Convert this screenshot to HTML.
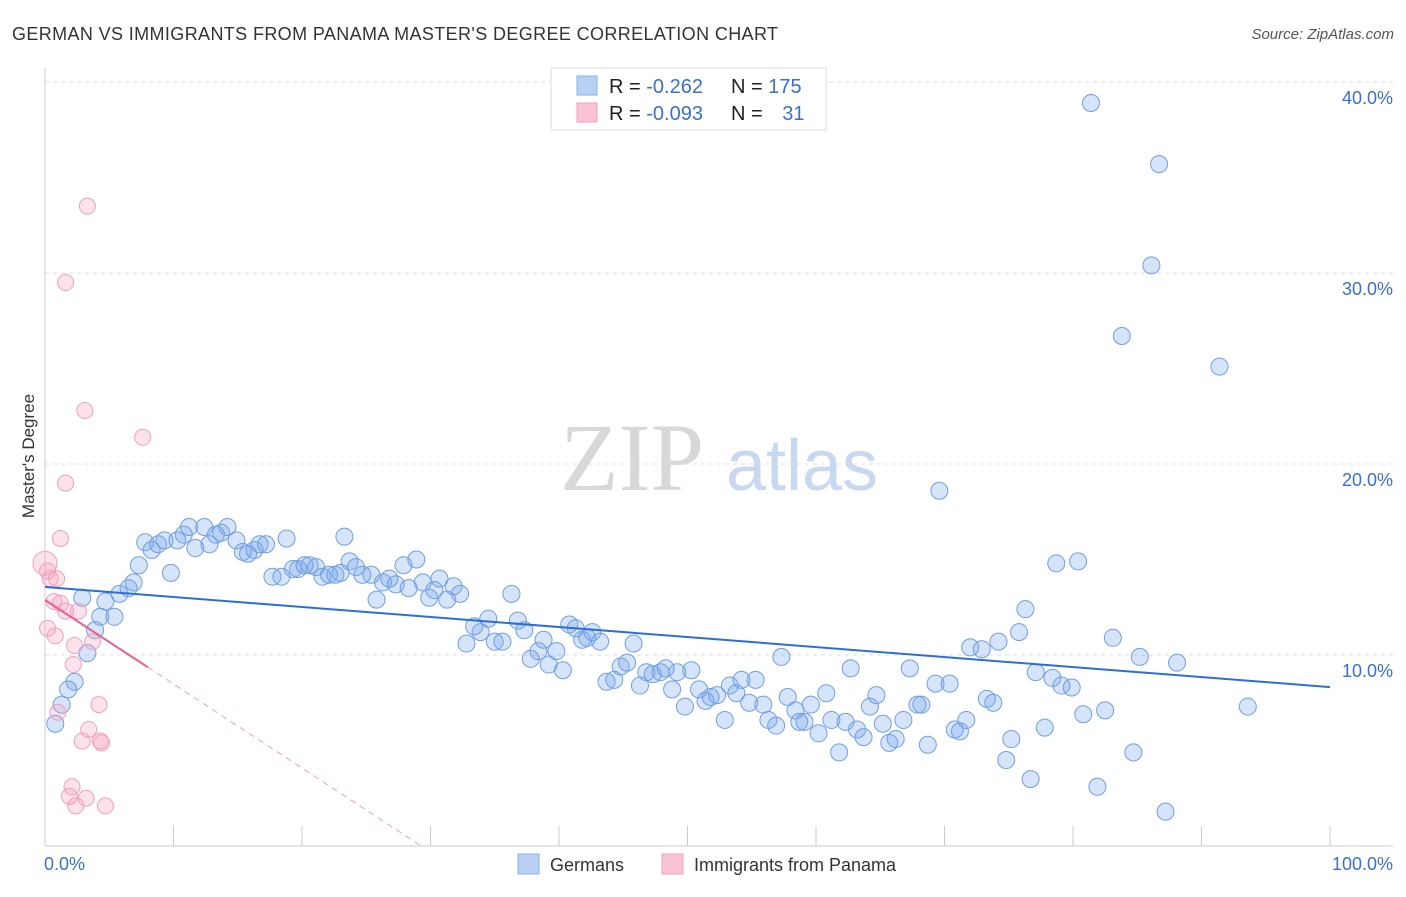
<!DOCTYPE html>
<html><head><meta charset="utf-8">
<style>
body{margin:0;background:#fff;font-family:"Liberation Sans",sans-serif;}
svg text{font-family:"Liberation Sans",sans-serif;}
</style></head>
<body>
<svg id="chart" width="1406" height="892" viewBox="0 0 1406 892">
<text x="12" y="40" font-size="18" fill="#333" textLength="766">GERMAN VS IMMIGRANTS FROM PANAMA MASTER'S DEGREE CORRELATION CHART</text>
<text x="1394" y="39" font-size="15" fill="#555" text-anchor="end" font-style="italic">Source: ZipAtlas.com</text>
<g>
<text x="632" y="490" font-size="96" fill="#d8d8d8" text-anchor="middle" font-family="Liberation Serif" style="font-family:'Liberation Serif',serif">ZIP</text>
<text x="802" y="490" font-size="72" fill="#c8d8f0" text-anchor="middle">atlas</text>
</g>
<g id="grid"></g>
<g id="axes"></g>
<g id="marks"></g>
<text transform="translate(34,456) rotate(-90)" font-size="17" fill="#333" text-anchor="middle">Master's Degree</text>
<g>
<rect x="551" y="68" width="275" height="62" fill="#fff" stroke="#ddd"/>
<rect x="577" y="76" width="20" height="19" fill="#b8d0f4" stroke="#8ab0e8"/>
<rect x="577" y="103" width="20" height="19" fill="#f8c4d4" stroke="#f0a0bc"/>
<text x="609" y="93" font-size="20" fill="#222">R = <tspan fill="#3a6fd0">-0.262</tspan></text>
<text x="731" y="93" font-size="20" fill="#222">N = <tspan fill="#3a6fd0">175</tspan></text>
<text x="609" y="120" font-size="20" fill="#222">R = <tspan fill="#3a6fd0">-0.093</tspan></text>
<text x="731" y="120" font-size="20" fill="#222">N = <tspan fill="#3a6fd0" dx="14">31</tspan></text>
</g>
<g>
<rect x="518" y="854" width="21" height="20" fill="#b8d0f4" stroke="#8ab0e8"/>
<text x="550" y="871" font-size="18" fill="#333">Germans</text>
<rect x="662" y="854" width="21" height="20" fill="#f8c4d4" stroke="#f0a0bc"/>
<text x="694" y="871" font-size="18" fill="#333">Immigrants from Panama</text>
</g>
</svg>
<script>
const yTicks=[10,20,30,40];
const yTickLabels=["10.0%","20.0%","30.0%","40.0%"];
const xTickLabels=["0.0%","100.0%"];
const germansX=[81.4,86.7,86.1,83.8,91.4,69.6,78.7,80.4,76.3,75.8,83.1,72.0,72.9,74.2,85.2,88.1,77.1,78.4,79.1,79.9,73.3,73.8,80.8,82.5,93.6,77.8,75.2,74.8,76.7,84.7,81.9,87.2,0.8,1.3,1.8,2.3,3.3,3.9,4.3,5.4,4.7,2.9,5.8,6.5,6.9,7.3,7.8,8.3,8.8,9.3,9.8,10.3,10.8,11.2,11.7,12.4,12.8,13.3,13.7,14.2,14.9,15.4,15.8,16.3,16.7,17.2,17.7,18.4,18.8,19.3,19.7,20.2,20.6,21.1,21.6,22.1,22.6,23.0,23.3,23.7,24.2,24.7,25.4,25.8,26.3,26.8,27.3,27.9,28.3,28.9,29.4,29.9,30.3,30.7,31.3,31.8,32.3,32.8,33.4,33.9,34.5,35.0,35.6,36.3,36.8,37.3,37.8,38.4,38.8,39.2,39.8,40.3,40.8,41.3,41.8,42.2,42.6,43.2,43.7,44.3,44.8,45.3,45.8,46.3,46.8,47.3,47.9,48.3,48.8,49.2,49.8,50.3,50.9,51.4,51.8,52.3,52.9,53.3,53.8,54.2,54.8,55.3,55.9,56.3,56.9,57.3,57.8,58.4,58.7,59.1,59.6,60.2,60.8,61.2,61.8,62.3,62.7,63.2,63.7,64.2,64.7,65.2,65.7,66.2,66.8,67.3,67.9,68.2,68.7,69.3,70.4,70.8,71.2,71.7];
const germansY=[38.9,35.7,30.4,26.7,25.1,18.6,14.8,14.9,12.4,11.2,10.9,10.4,10.3,10.7,9.9,9.6,9.1,8.8,8.4,8.3,7.7,7.5,6.9,7.1,7.3,6.2,5.6,4.5,3.5,4.9,3.1,1.8,6.4,7.4,8.2,8.6,10.1,11.3,12.0,12.0,12.8,13.0,13.2,13.5,13.8,14.7,15.9,15.5,15.8,16.0,14.3,16.0,16.3,16.7,15.6,16.7,15.8,16.3,16.4,16.7,16.0,15.4,15.3,15.5,15.8,15.8,14.1,14.1,16.1,14.5,14.5,14.7,14.7,14.6,14.1,14.2,14.2,14.3,16.2,14.9,14.6,14.2,14.2,12.9,13.8,14.0,13.7,14.7,13.5,15.0,13.8,13.0,13.4,14.0,12.9,13.6,13.2,10.6,11.5,11.2,11.9,10.7,10.7,13.2,11.8,11.3,9.8,10.2,10.8,9.5,10.2,9.2,11.6,11.4,10.8,10.9,11.2,10.7,8.6,8.7,9.4,9.6,10.6,8.4,9.1,9.0,9.1,9.3,8.2,9.1,7.3,9.2,8.2,7.6,7.8,7.9,6.6,8.4,8.0,8.7,7.5,8.7,7.4,6.6,6.3,9.9,7.8,7.1,6.5,6.5,7.4,5.9,8.0,6.6,4.9,6.5,9.3,6.1,5.7,7.3,7.9,6.4,5.4,5.6,6.6,9.3,7.4,7.4,5.3,8.5,8.5,6.1,6.0,6.6];
const panamaX=[0,0.4,0.9,0.2,0.8,0.7,1.2,1.6,2.6,1.6,3.3,3.1,7.6,1.6,1.2,1.0,2.2,2.3,3.7,4.2,3.4,2.9,4.3,4.4,2.1,1.9,2.4,3.2,4.7,0.2];
const panamaY=[14.8,14.0,14.0,11.4,11.0,12.8,12.7,12.3,12.3,29.5,33.5,22.8,21.4,19.0,16.1,7.0,9.5,10.5,10.7,7.4,6.1,5.5,5.5,5.4,3.1,2.6,2.1,2.5,2.1,14.4];
const germansTrend=[13.56,8.32];
const panamaTrend=[12.88,-0.44];
const NS='http://www.w3.org/2000/svg';
const X=v=>45+v*12.85, Y=v=>846-v*19.1;
function mk(tag,attrs,parent){const e=document.createElementNS(NS,tag);for(const k in attrs)e.setAttribute(k,attrs[k]);parent.appendChild(e);return e;}
const grid=document.getElementById('grid'),axes=document.getElementById('axes'),marks=document.getElementById('marks');
yTicks.forEach((t,i)=>{
 const l=mk('line',{x1:45,x2:1393,y1:Y(t),y2:Y(t),stroke:'#ddd','stroke-dasharray':'4,4'},grid);
 
 
 const tx=mk('text',{x:1393,y:Y(t)+22,'font-size':18,fill:'#3a6fd0','text-anchor':'end'},axes);
 tx.textContent=yTickLabels[i];
 
 
});
const ax=mk('line',{x1:45,x2:45,y1:68,y2:846,stroke:'#ccc'},axes);


const bx=mk('line',{x1:45,x2:1393,y1:846,y2:846,stroke:'#ccc'},axes);


for(let i=0;i<=10;i++){const t=mk('line',{x1:X(i*10),x2:X(i*10),y1:826,y2:846,stroke:'#ccc'},axes);
 
 }
[[0,44,'start'],[100,1393,'end']].forEach((d,i)=>{const t=mk('text',{x:d[1],y:870,'font-size':18,fill:'#3a6fd0','text-anchor':d[2]},axes);t.textContent=xTickLabels[i];
 
 });
germansX.forEach((x,i)=>{const c=mk('circle',{cx:X(x),cy:Y(germansY[i]),r:8.5,fill:'rgba(120,165,235,0.3)',stroke:'#6f9fe2','stroke-width':1},marks);
 
 });
panamaX.forEach((x,i)=>{const c=mk('circle',{cx:X(x),cy:Y(panamaY[i]),r:i==0?12:8,fill:'rgba(245,160,190,0.3)',stroke:'#f0a0bc','stroke-width':1},marks);
 
 });
const gt=mk('line',{x1:X(0),y1:Y(germansTrend[0]),x2:X(100),y2:Y(germansTrend[1]),stroke:'#2b6ed8','stroke-width':2},marks);


const pe=-panamaTrend[0]/panamaTrend[1];
const pd=mk('line',{x1:X(8),y1:Y(panamaTrend[0]+panamaTrend[1]*8),x2:X(pe),y2:Y(0),stroke:'#f0a0bc','stroke-width':1,'stroke-dasharray':'6,5'},marks);


const pt=mk('line',{x1:X(0),y1:Y(panamaTrend[0]),x2:X(8),y2:Y(panamaTrend[0]+panamaTrend[1]*8),stroke:'#e8608c','stroke-width':2},marks);


</script>
</body></html>
